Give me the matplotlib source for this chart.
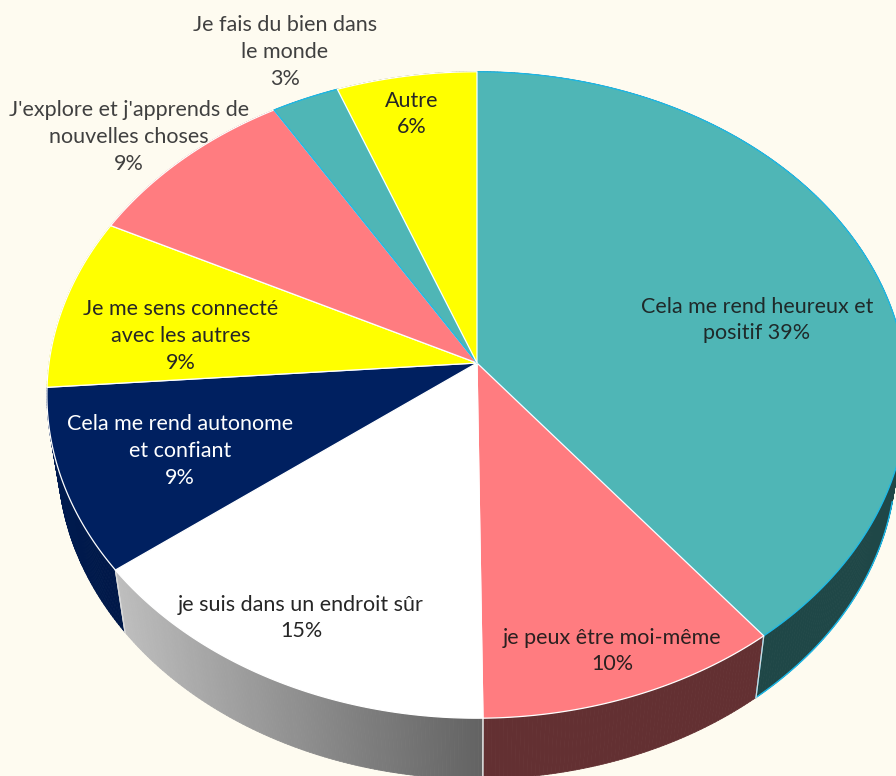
import numpy as np
import matplotlib
matplotlib.use("Agg")
import matplotlib.pyplot as plt
from matplotlib.collections import PolyCollection
from matplotlib.patches import Polygon
from matplotlib.colors import to_rgb

# ---------------- data ----------------
categories = [
    "Cela me rend heureux et positif",
    "je peux être moi-même",
    "je suis dans un endroit sûr",
    "Cela me rend autonome et confiant",
    "Je me sens connecté avec les autres",
    "J'explore et j'apprends de nouvelles choses",
    "Je fais du bien dans le monde",
    "Autre",
]
shares = [39.4, 10.4, 14.8, 9.2, 8.6, 9.0, 2.8, 5.8]
label_templates = [
    "Cela me rend heureux et\npositif {p}%",
    "je peux être moi-même\n{p}%",
    "je suis dans un endroit sûr\n{p}%",
    "Cela me rend autonome\net confiant\n{p}%",
    "Je me sens connecté\navec les autres\n{p}%",
    "J'explore et j'apprends de\nnouvelles choses\n{p}%",
    "Je fais du bien dans\nle monde\n{p}%",
    "Autre\n{p}%",
]

# ---------------- style ----------------
top_colors = ["#4fb6b6", "#ff7c80", "#ffffff", "#002060",
              "#ffff00", "#ff7c80", "#4fb6b6", "#ffff00"]
edge_colors = ["#1ab9ea", "#ffffff", "#ffffff", "#ffffff",
               "#ffffff", "#ffffff", "#1ab9ea", "#ffffff"]
text_colors = ["#1f2a2a", "#2a2020", "#262626", "#ffffff",
               "#262626", "#404040", "#404040", "#262626"]
label_xy = [(757, 320), (612, 651), (301, 618), (180, 451),
            (181, 336), (129, 137), (285, 52), (412, 114)]
BG = "#fefbf0"

W, H = 896, 776
fig = plt.figure(figsize=(W / 100, H / 100), dpi=100, facecolor=BG)
ax = fig.add_axes([0, 0, 1, 1])
ax.set_xlim(0, W)
ax.set_ylim(H, 0)
ax.axis("off")
ax.set_facecolor(BG)

# perspective camera for the 3D disc
cx, cy = 477.0, 363.0
theta = np.deg2rad(48.4)
s, c = np.sin(theta), np.cos(theta)
D = 6.71
F = 428.0 * D
h = 0.23


def proj(u, v, w):
    yc = v * s + w * c
    zc = D + v * c - w * s
    return cx + F * u / zc, cy - F * yc / zc


def shade(col, u):
    m = 0.39 + 0.45 * max(0.0, -u)
    r, g, b = to_rgb(col)
    return (r * m, g * m, b * m)


total = sum(shares)
bounds = np.cumsum([0] + shares) / total * 2 * np.pi

# ---- side walls (painter's order: far to near) ----
quads, qcols, qdepth = [], [], []
for i in range(len(shares)):
    a0, a1 = bounds[i], bounds[i + 1]
    n = max(2, int(np.degrees(a1 - a0) * 2))
    ph = np.linspace(a0, a1, n + 1)
    for j in range(n):
        p0, p1 = ph[j], ph[j + 1]
        pts = [proj(np.sin(p0), np.cos(p0), 0), proj(np.sin(p1), np.cos(p1), 0),
               proj(np.sin(p1), np.cos(p1), -h), proj(np.sin(p0), np.cos(p0), -h)]
        pm = 0.5 * (p0 + p1)
        quads.append(pts)
        qcols.append(shade(top_colors[i], np.sin(pm)))
        qdepth.append(np.cos(pm))
order = np.argsort(qdepth)[::-1]
pc = PolyCollection([quads[k] for k in order],
                    facecolors=[qcols[k] for k in order],
                    edgecolors=[qcols[k] for k in order], linewidths=0.6,
                    zorder=1)
ax.add_collection(pc)

# boundary lines / outlines on visible side
vis_lim = -1.0 / (D * c)
for i in range(len(shares)):
    a0, a1 = bounds[i], bounds[i + 1]
    for a in (a0, a1):
        if np.cos(a) < vis_lim:
            col = "#1ab9ea" if edge_colors[i] != "#ffffff" else "#d9d9d9"
            x0, y0 = proj(np.sin(a), np.cos(a), 0)
            x1, y1 = proj(np.sin(a), np.cos(a), -h)
            ax.plot([x0, x1], [y0, y1], color=col, lw=0.9, zorder=2)
    if edge_colors[i] != "#ffffff":
        ph = np.linspace(a0, a1, 200)
        ph = ph[np.cos(ph) < vis_lim]
        if len(ph):
            xs, ys = proj(np.sin(ph), np.cos(ph), -h)
            ax.plot(xs, ys, color=edge_colors[i], lw=1.0, zorder=2)

# ---- top faces ----
for i in range(len(shares)):
    a0, a1 = bounds[i], bounds[i + 1]
    ph = np.linspace(a0, a1, max(3, int(np.degrees(a1 - a0) * 2)))
    xs, ys = proj(np.sin(ph), np.cos(ph), 0 * ph)
    verts = [(cx, cy)] + list(zip(xs, ys))
    ax.add_patch(Polygon(verts, closed=True, facecolor=top_colors[i],
                         edgecolor=edge_colors[i], lw=0.9, zorder=3,
                         joinstyle="round"))

# ---- labels ----
for i in range(len(shares)):
    txt = label_templates[i].format(p=int(round(shares[i] / total * 100)))
    ax.text(label_xy[i][0], label_xy[i][1], txt, ha="center", va="center",
            multialignment="center", fontsize=15.5, family=["Lato", "DejaVu Sans"],
            color=text_colors[i], linespacing=1.42, zorder=5)

fig.savefig("out.png", dpi=100, facecolor=BG)
